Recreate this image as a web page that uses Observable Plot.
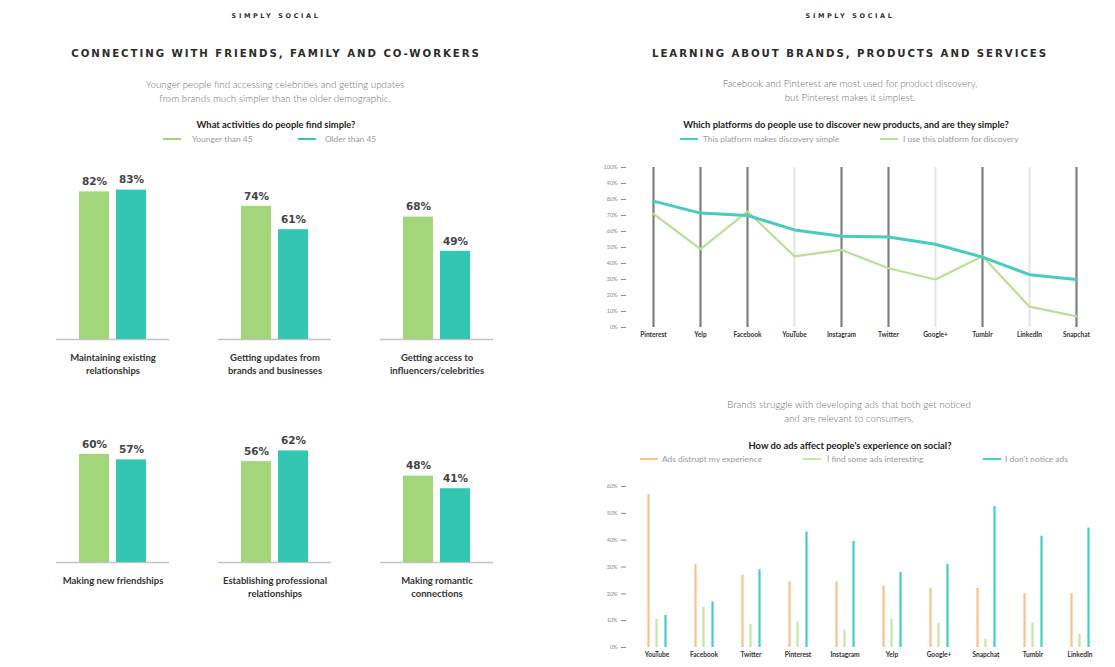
<!DOCTYPE html>
<html><head><meta charset="utf-8">
<script src="https://cdn.jsdelivr.net/npm/d3@7"></script>
<script src="https://cdn.jsdelivr.net/npm/@observablehq/plot@0.6"></script>
<style>
html,body{margin:0;padding:0;background:#fff;}
#page{position:relative;width:1115px;height:667px;overflow:hidden;font-family:Lato,"Liberation Sans",sans-serif;}
.t{position:absolute;white-space:nowrap;transform:translate(-50%,-50%);text-align:center;}
.brand{font-family:"DejaVu Sans";font-weight:bold;font-size:6.5px;letter-spacing:2.6px;color:#333;}
.title{font-family:"DejaVu Sans";font-weight:bold;font-size:10.2px;letter-spacing:1.95px;color:#2b2b2b;}
.sub{font-family:Lato;font-weight:300;font-size:9.8px;color:#6e6e6e;line-height:14px;}
.q{font-family:Lato;font-weight:bold;font-size:9.4px;color:#222;}
.sw{position:absolute;height:2.5px;width:18px;}
.lt{position:absolute;font-family:Lato;font-weight:400;font-size:8.4px;color:#9a9a9a;transform:translateY(-50%);white-space:nowrap;}
.chart{position:absolute;}
</style></head>
<body><div id="page">
<div class="t brand" style="left:276px;top:16px">SIMPLY SOCIAL</div>
<div class="t title" style="left:276px;top:53px">CONNECTING WITH FRIENDS, FAMILY AND CO-WORKERS</div>
<div class="t sub" style="left:275px;top:91px">Younger people find accessing celebrities and getting updates<br>from brands much simpler than the older demographic.</div>
<div class="t q" style="left:276px;top:124px">What activities do people find simple?</div>

<div class="t brand" style="left:850px;top:16px">SIMPLY SOCIAL</div>
<div class="t title" style="left:850px;top:53px">LEARNING ABOUT BRANDS, PRODUCTS AND SERVICES</div>
<div class="t sub" style="left:850px;top:90px">Facebook and Pinterest are most used for product discovery,<br>but Pinterest makes it simplest.</div>
<div class="t q" style="left:846px;top:124px">Which platforms do people use to discover new products, and are they simple?</div>

<div class="t sub" style="left:849px;top:411px">Brands struggle with developing ads that both get noticed<br>and are relevant to consumers.</div>
<div class="t q" style="left:850px;top:445px">How do ads affect people's experience on social?</div>

<div class="chart" id="c1" style="left:0;top:150px"></div>
<div class="chart" id="c2" style="left:0;top:373px"></div>
<div class="chart" id="c3" style="left:557px;top:150px"></div>
<div class="chart" id="c4" style="left:557px;top:470px"></div>
</div>
<script>
// ---- Data: connecting with friends ----
const connectCategories = ["Maintaining existing\nrelationships","Getting updates from\nbrands and businesses","Getting access to\ninfluencers/celebrities","Making new friendships","Establishing professional\nrelationships","Making romantic\nconnections"];
const ageGroups = ["Younger than 45","Older than 45"];
const youngerValues = [82,74,68,60,56,48];
const olderValues = [83,61,49,57,62,41];

// ---- Data: discovery ----
const discoveryPlatforms = ["Pinterest","Yelp","Facebook","YouTube","Instagram","Twitter","Google+","Tumblr","LinkedIn","Snapchat"];
const discoverySeries = ["This platform makes discovery simple","I use this platform for discovery"];
const discoverySimple = [79,71.5,70,61,57,56.5,52,44,33,30];
const discoveryUse = [71,49,72.5,44.5,48.5,37,30,44.5,13,7];
const discoveryDarkGrid = ["Pinterest","Yelp","Facebook","Instagram","Twitter","Tumblr","Snapchat"];

// ---- Data: ads ----
const adPlatforms = ["YouTube","Facebook","Twitter","Pinterest","Instagram","Yelp","Google+","Snapchat","Tumblr","LinkedIn"];
const adSeries = ["Ads distrupt my experience","I find some ads interesting","I don't notice ads"];
const adsDisrupt = [57,31,27,24.5,24.5,23,22,22,20,20];
const adsInteresting = [10.5,15,8.5,9.5,6.5,10.5,9,3,9,5];
const adsNotNoticed = [12,17,29,43,39.5,28,31,52.5,41.5,44.5];

const GREEN = "#a3d67b", TEAL = "#33c7b3";
const LINE_TEAL = "#45cdbd", LINE_GREEN = "#b9e193";
const AD_ORANGE = "#f6c28f", AD_GREEN = "#c6e5a6", AD_TEAL = "#46cfc0";

// legends
function legend(items, y){
  const page = document.getElementById("page");
  for (const it of items){
    const s = document.createElement("div"); s.className="sw";
    s.style.left = it.x+"px"; s.style.top = (y-1.25)+"px"; s.style.background = it.color;
    page.appendChild(s);
    const t = document.createElement("div"); t.className="lt";
    t.style.left = it.tx+"px"; t.style.top = y+"px"; t.textContent = it.label;
    page.appendChild(t);
  }
}
legend([{x:163,tx:192,color:GREEN,label:ageGroups[0]},{x:298,tx:325,color:TEAL,label:ageGroups[1]}],139);
legend([{x:680,tx:703,color:LINE_TEAL,label:discoverySeries[0]},{x:880,tx:903,color:LINE_GREEN,label:discoverySeries[1]}],139);
legend([{x:640,tx:662,color:AD_ORANGE,label:adSeries[0]},{x:803,tx:827,color:AD_GREEN,label:adSeries[1]},{x:983,tx:1005,color:AD_TEAL,label:adSeries[2]}],459);

// ---- Left grouped bars ----
const connectRows = connectCategories.flatMap((c,i)=>[
  {cat:c, group:ageGroups[0], value:youngerValues[i]},
  {cat:c, group:ageGroups[1], value:olderValues[i]}
]);
function barPanel(cats){
  const rows = connectRows.filter(d=>cats.includes(d.cat));
  return Plot.plot({
    width:557, height:229, marginLeft:55, marginRight:62, marginTop:9, marginBottom:40,
    style:{fontFamily:"Lato", background:"transparent"},
    fx:{domain:cats, paddingInner:0.3, paddingOuter:0, axis:null},
    x:{domain:ageGroups, paddingInner:0.2, paddingOuter:0.6, axis:null},
    y:{domain:[0,100], axis:null},
    color:{domain:ageGroups, range:[GREEN,TEAL]},
    marks:[
      Plot.ruleY([0],{stroke:"#c4c4c4", strokeWidth:1.5}),
      Plot.barY(rows,{fx:"cat", x:"group", y:"value", fill:"group"}),
      Plot.text(rows,{fx:"cat", x:"group", y:"value", text:d=>d.value+"%", dy:-10,
        fontFamily:"DejaVu Sans", fontWeight:"bold", fontSize:10.5, fill:"#444"}),
      Plot.axisFx({anchor:"bottom", tickSize:0, tickPadding:13, fontWeight:"bold", fontSize:9.5,
        lineHeight:1.3, fill:"#333", label:null})
    ]
  });
}
document.getElementById("c1").appendChild(barPanel(connectCategories.slice(0,3)));
document.getElementById("c2").appendChild(barPanel(connectCategories.slice(3,6)));

// ---- Discovery line chart ----
const discoveryRows = discoveryPlatforms.flatMap((p,i)=>[
  {platform:p, series:discoverySeries[0], value:discoverySimple[i]},
  {platform:p, series:discoverySeries[1], value:discoveryUse[i]}
]);
document.getElementById("c3").appendChild(Plot.plot({
  width:558, height:197, marginLeft:69, marginRight:12, marginTop:17, marginBottom:20,
  style:{fontFamily:"Lato", background:"transparent"},
  x:{type:"point", domain:discoveryPlatforms, padding:0.574},
  y:{domain:[0,100]},
  marks:[
    Plot.ruleX(discoveryPlatforms.filter(p=>!discoveryDarkGrid.includes(p)),{x:d=>d, y1:0, y2:100, stroke:"#e4e4e4", strokeWidth:2}),
    Plot.ruleX(discoveryDarkGrid,{x:d=>d, y1:0, y2:100, stroke:"#7f7f7f", strokeWidth:2.2}),
    Plot.line(discoveryRows.filter(d=>d.series===discoverySeries[1]),{x:"platform", y:"value", stroke:LINE_GREEN, strokeWidth:2.2}),
    Plot.line(discoveryRows.filter(d=>d.series===discoverySeries[0]),{x:"platform", y:"value", stroke:LINE_TEAL, strokeWidth:3}),
    Plot.axisY({ticks:d3.range(0,101,10), tickFormat:d=>d+"%", tickSize:5, tickPadding:4, fontSize:5.5, color:"#888", label:null}),
    Plot.axisX({tickSize:0, tickPadding:5, fontWeight:"bold", fontSize:6.6, fill:"#333", label:null})
  ]
}));

// ---- Ads grouped bars ----
const adValues = [adsDisrupt, adsInteresting, adsNotNoticed];
const adRows = adPlatforms.flatMap((p,i)=>adSeries.map((s,j)=>({platform:p, series:s, value:adValues[j][i]})));
const adColors = [AD_ORANGE, AD_GREEN, AD_TEAL];
const adOffsets = [-8, 0, 9];
document.getElementById("c4").appendChild(Plot.plot({
  width:558, height:197, marginLeft:69, marginRight:5, marginTop:16, marginBottom:20,
  style:{fontFamily:"Lato", background:"transparent"},
  x:{domain:adPlatforms, paddingInner:0, paddingOuter:0.0625},
  y:{domain:[0,60]},
  marks:[
    ...adSeries.map((s,j)=>Plot.barY(adRows.filter(d=>d.series===s),{x:"platform", y:"value", fill:adColors[j],
      insetLeft:22.4, insetRight:22.4, dx:adOffsets[j]})),
    Plot.axisY({ticks:d3.range(0,61,10), tickFormat:d=>d+"%", tickSize:5, tickPadding:4, fontSize:5.5, color:"#888", label:null}),
    Plot.axisX({tickSize:0, tickPadding:5, fontWeight:"bold", fontSize:6.6, fill:"#333", label:null})
  ]
}));
</script>
</body></html>
